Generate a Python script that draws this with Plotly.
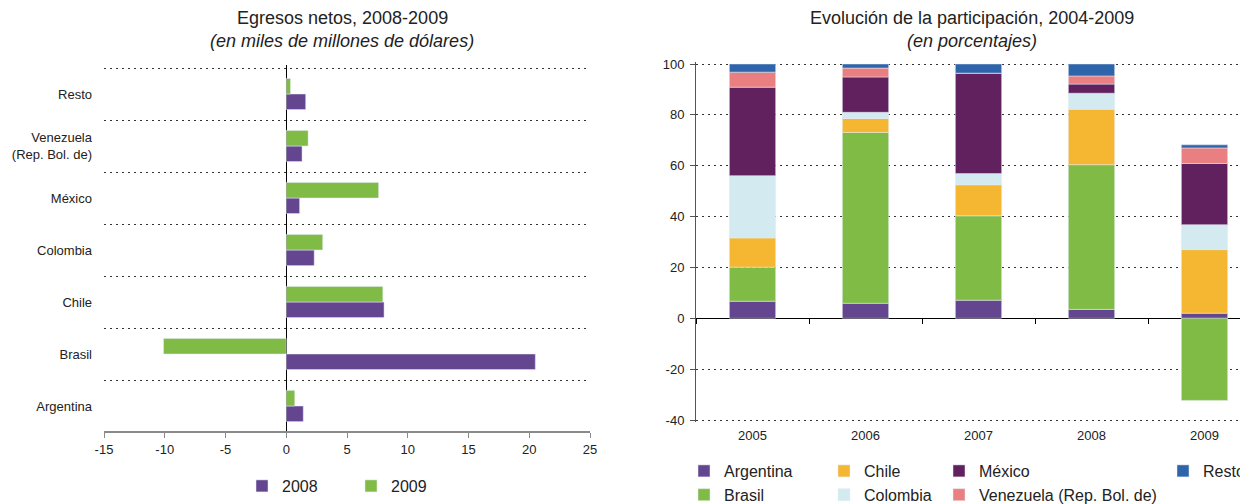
import plotly.graph_objects as go

# ---------------- data: left chart ----------------
paises = ["Argentina", "Brasil", "Chile", "Colombia", "México",
          "Venezuela<br>(Rep. Bol. de)", "Resto"]
egresos_2008 = [1.4, 20.5, 8.05, 2.3, 1.1, 1.3, 1.6]
egresos_2009 = [0.7, -10.1, 7.95, 3.0, 7.6, 1.8, 0.35]
ticks_izq = [-15, -10, -5, 0, 5, 10, 15, 20, 25]

# ---------------- data: right chart ----------------
anios = ["2005", "2006", "2007", "2008", "2009"]
argentina = [6.7, 5.9, 7.1, 3.5, 2.0]
brasil = [13.4, 67.2, 33.2, 56.9, -32.3]
chile = [11.5, 5.5, 12.2, 21.8, 25.0]
colombia = [24.5, 2.4, 4.4, 6.3, 9.8]
mexico = [34.8, 13.9, 39.5, 3.6, 24.1]
venezuela = [5.9, 3.5, 0.0, 3.2, 6.1]
resto = [3.2, 1.6, 3.6, 4.7, 1.2]
ticks_der = [-40, -20, 0, 20, 40, 60, 80, 100]

FONT = "Liberation Sans, Arial, Helvetica, sans-serif"
C_ARG = "#64458F"
C_BRA = "#80BB46"
C_CHI = "#F5B731"
C_COL = "#D2EAF0"
C_MEX = "#61215F"
C_VEN = "#E97F80"
C_RES = "#2E64AA"

# the page body has an 8px margin: work in page pixels, convert to figure
OFF = 8
PAGE_W, PAGE_H = 1248, 504
W, H = PAGE_W - OFF, PAGE_H - OFF


def X(p):
    return p - OFF


def Y(p):
    return p - OFF


ML, MR, MT, MB = X(104), W - X(1248), Y(60), H - Y(436)
PW = W - ML - MR
PH = H - MT - MB


def fx(p):
    return (X(p) - ML) / PW


def fy(p):
    return (H - MB - Y(p)) / PH


fig = go.Figure()

# Left chart (horizontal paired bars: 2008 below, 2009 above the band centre)
BW = 0.3
fig.add_trace(go.Bar(x=egresos_2008, y=paises, orientation="h", name="2008",
                     marker_color=C_ARG, xaxis="x", yaxis="y",
                     offsetgroup="a", width=BW, offset=-BW, legend="legend"))
fig.add_trace(go.Bar(x=egresos_2009, y=paises, orientation="h", name="2009",
                     marker_color=C_BRA, xaxis="x", yaxis="y",
                     offsetgroup="b", width=BW, offset=0, legend="legend"))

# Right chart (stacked columns)
series = [
    ("Argentina", argentina, C_ARG, "legend2"),
    ("Brasil", brasil, C_BRA, "legend2"),
    ("Chile", chile, C_CHI, "legend3"),
    ("Colombia", colombia, C_COL, "legend3"),
    ("México", mexico, C_MEX, "legend4"),
    ("Venezuela (Rep. Bol. de)", venezuela, C_VEN, "legend4"),
    ("Resto<sup>a</sup>", resto, C_RES, "legend5"),
]
for name, vals, col, leg in series:
    fig.add_trace(go.Bar(x=anios, y=vals, name=name, marker_color=col,
                         xaxis="x2", yaxis="y2", width=0.41, legend=leg,
                         offsetgroup="s"))

# left category axis: 7 bands, 52px each, top boundary at page y=68
band = 52.0
pad_c = 0.05
ydom1 = [fy(432), fy(68 - pad_c * band)]
yr1 = [-0.5, 6.5 + pad_c]

# right value axis: 100 at page y=64, -40 at page y=420
s2 = (420 - 64) / 140.0
pad_v = 0.6
ydom2 = [fy(420 + pad_v * s2), fy(64 - pad_v * s2)]
yr2 = [-40 - pad_v, 100 + pad_v]
zero_pos = ydom2[0] + (0 - yr2[0]) / (yr2[1] - yr2[0]) * (ydom2[1] - ydom2[0])

tickfont = dict(family=FONT, size=13, color="#222")
DOT = "2px,4px"

fig.update_layout(
    width=W, height=H,
    margin=dict(l=ML, r=MR, t=MT, b=MB, autoexpand=False),
    paper_bgcolor="white", plot_bgcolor="white",
    barmode="relative",
    font=dict(family=FONT, color="#222"),
    xaxis=dict(domain=[0, fx(590)], range=[-15, 25],
               tickvals=ticks_izq, ticktext=[str(v) for v in ticks_izq],
               showgrid=False, zeroline=True, zerolinecolor="#000",
               zerolinewidth=1, showline=True, linecolor="#8a8a8a",
               linewidth=2, ticks="outside", ticklen=5, tickcolor="#8a8a8a",
               tickwidth=1, tickfont=tickfont, anchor="free",
               position=ydom1[0]),
    yaxis=dict(domain=ydom1, type="category", tickson="boundaries",
               showgrid=True, gridcolor="#333", griddash=DOT,
               gridwidth=1, ticks="", tickfont=tickfont,
               ticklabelstandoff=11, showline=False, zeroline=False,
               anchor="x", range=yr1),
    xaxis2=dict(domain=[fx(696), 1.0], type="category",
                range=[-0.5, -0.5 + (1248 - 696) / 113.0],
                tickson="boundaries", ticks="outside", ticklen=5,
                tickcolor="#000", showgrid=False, showline=False,
                zeroline=False, anchor="free", position=zero_pos,
                ticklabelstandoff=108, tickfont=tickfont),
    yaxis2=dict(domain=ydom2, range=yr2,
                tickvals=ticks_der, ticktext=[str(v) for v in ticks_der],
                anchor="x2",
                showgrid=True, gridcolor="#333", griddash=DOT,
                gridwidth=1, zeroline=True, zerolinecolor="#000",
                zerolinewidth=1, showline=True, linecolor="#555",
                linewidth=1, ticks="outside", ticklen=5, tickcolor="#555",
                ticklabelstandoff=3, tickfont=tickfont),
    showlegend=True,
    legend=dict(orientation="h", xref="container", yref="container",
                x=X(282 - 40) / W, y=1 - Y(486) / H, xanchor="left",
                yanchor="middle", entrywidth=64, entrywidthmode="pixels",
                font=dict(family=FONT, size=16, color="#222"),
                bgcolor="rgba(0,0,0,0)"),
)

for i, lx in zip([2, 3, 4, 5], [724, 864, 979, 1203]):
    fig.update_layout({f"legend{i}": dict(
        orientation="v", xref="container", yref="container",
        x=X(lx - 40) / W, y=1 - Y(454) / H, xanchor="left", yanchor="top",
        font=dict(family=FONT, size=16, color="#222"),
        bgcolor="rgba(0,0,0,0)", traceorder="normal")})

# Titles
titles = [
    ("x domain", "Egresos netos, 2008-2009", "(en miles de millones de dólares)", -5),
    ("x2 domain", "Evolución de la participación, 2004-2009", "(en porcentajes)", 0),
]
for xref, t1, t2, xs in titles:
    fig.add_annotation(xref=xref, yref="paper", x=0.5, y=fy(18), text=t1,
                       showarrow=False, xshift=xs, yanchor="middle",
                       font=dict(family=FONT, size=18, color="#222"))
    fig.add_annotation(xref=xref, yref="paper", x=0.5, y=fy(41),
                       text="<i>" + t2 + "</i>", showarrow=False, xshift=xs,
                       yanchor="middle",
                       font=dict(family=FONT, size=18, color="#222"))

fig.write_html("out.html")
